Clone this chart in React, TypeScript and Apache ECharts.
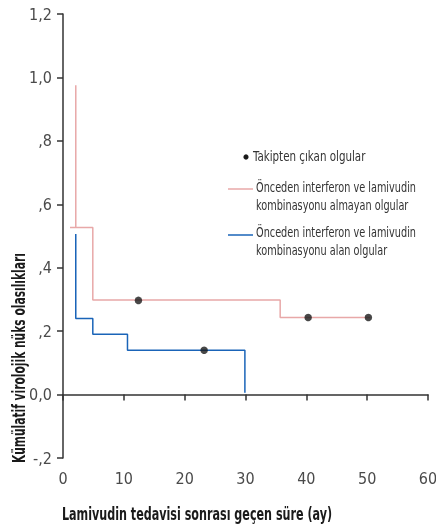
import React, { useEffect, useRef } from "react";
import * as echarts from "echarts";

const xTicks = [0, 10, 20, 30, 40, 50, 60];
const yTickValues = [-0.2, 0, 0.2, 0.4, 0.6, 0.8, 1.0, 1.2];
const yTickLabels = ["-,2", "0,0", ",2", ",4", ",6", ",8", "1,0", "1,2"];

// Pink: no prior interferon + lamivudin combination
const pinkTop: [number, number][] = [
  [2.1, 0.975],
  [2.1, 0.527],
];
const pinkSteps: [number, number][] = [
  [1.15, 0.527],
  [4.9, 0.527],
  [4.9, 0.298],
  [35.7, 0.298],
  [35.7, 0.243],
  [50.5, 0.243],
];
// Blue: prior combination
const blueSteps: [number, number][] = [
  [2.1, 0.506],
  [2.1, 0.24],
  [4.9, 0.24],
  [4.9, 0.19],
  [10.6, 0.19],
  [10.6, 0.14],
  [29.9, 0.14],
  [29.9, 0.006],
];
const censored: [number, number][] = [
  [12.4, 0.297],
  [40.3, 0.243],
  [50.2, 0.243],
  [23.2, 0.14],
];

const legendTitle = "Takipten çıkan olgular";
const legendPink = ["Önceden interferon ve lamivudin", "kombinasyonu almayan olgular"];
const legendBlue = ["Önceden interferon ve lamivudin", "kombinasyonu alan olgular"];
const xTitle = "Lamivudin tedavisi sonrası geçen süre (ay)";
const yTitle = "Kümülatif virolojik nüks olasılıkları";

const FONT = "'DejaVu Sans Condensed', 'Liberation Sans Narrow', sans-serif";
const PINK = "#e8a8a8";
const BLUE = "#1a64b8";

const legendText = (text: string, x: number, y: number, sx: number) => ({
  type: "text",
  x,
  y,
  scaleX: sx,
  style: { text, fontFamily: FONT, fontSize: 13.5, fill: "#333", verticalAlign: "middle" },
});

export default function App() {
  const ref = useRef<HTMLDivElement>(null);
  useEffect(() => {
    if (!ref.current) return;
    const chart = echarts.init(ref.current, undefined, { renderer: "svg" });
    const axisLine = { show: true, lineStyle: { color: "#333", width: 1.5 } };
    chart.setOption({
      animation: false,
      grid: { left: 63, right: 8, top: 14, bottom: 73, outerBoundsMode: "none", containLabel: false },
      xAxis: {
        type: "value",
        min: 0,
        max: 60,
        interval: 10,
        axisLine,
        axisTick: { show: true, length: 6, lineStyle: { color: "#333", width: 1.5 } },
        axisLabel: {
          color: "#4a4a4a",
          fontFamily: FONT,
          fontSize: 16,
          margin: 12,
          formatter: (v: number) => (xTicks.includes(v) ? String(v) : ""),
        },
        splitLine: { show: false },
      },
      yAxis: {
        type: "value",
        min: -0.2,
        max: 1.2,
        interval: 0.2,
        axisLine,
        axisTick: { show: true, length: 6, lineStyle: { color: "#333", width: 1.5 } },
        axisLabel: {
          color: "#4a4a4a",
          fontFamily: FONT,
          fontSize: 16,
          margin: 11,
          formatter: (v: number) => {
            const i = yTickValues.findIndex((t) => Math.abs(t - v) < 1e-6);
            return i >= 0 ? yTickLabels[i] : "";
          },
        },
        splitLine: { show: false },
      },
      series: [
        { type: "line", data: pinkTop, symbol: "none", lineStyle: { color: PINK, width: 1.5 } },
        { type: "line", data: pinkSteps, symbol: "none", lineStyle: { color: PINK, width: 1.5 } },
        { type: "line", data: blueSteps, symbol: "none", lineStyle: { color: BLUE, width: 1.5 } },
        {
          type: "scatter",
          data: censored,
          symbol: "circle",
          symbolSize: 7.5,
          itemStyle: { color: "#1a1a1a" },
          z: 5,
        },
      ],
      graphic: [
        { type: "circle", shape: { cx: 246, cy: 157, r: 2.6 }, style: { fill: "#1a1a1a" } },
        legendText(legendTitle, 253, 156, 0.85),
        { type: "line", shape: { x1: 228, y1: 189, x2: 253, y2: 189 }, style: { stroke: PINK, lineWidth: 1.5 } },
        legendText(legendPink[0], 256, 188, 0.8),
        legendText(legendPink[1], 256, 206, 0.8),
        { type: "line", shape: { x1: 228, y1: 235, x2: 253, y2: 235 }, style: { stroke: BLUE, lineWidth: 1.5 } },
        legendText(legendBlue[0], 256, 233, 0.8),
        legendText(legendBlue[1], 256, 251, 0.8),
        {
          type: "text",
          x: 197,
          y: 514,
          scaleX: 0.73,
          style: {
            text: xTitle,
            fontFamily: FONT,
            fontSize: 17,
            fontWeight: "bold",
            fill: "#1a1a1a",
            align: "center",
            verticalAlign: "middle",
          },
        },
        {
          type: "text",
          x: 19,
          y: 358,
          rotation: Math.PI / 2,
          scaleX: 0.7,
          style: {
            text: yTitle,
            fontFamily: FONT,
            fontSize: 17,
            fontWeight: "bold",
            fill: "#1a1a1a",
            align: "center",
            verticalAlign: "middle",
          },
        },
      ],
    });
    return () => chart.dispose();
  }, []);
  return (
    <div
      ref={ref}
      style={{ position: "fixed", left: 0, top: 0, width: 436, height: 531 }}
    />
  );
}
